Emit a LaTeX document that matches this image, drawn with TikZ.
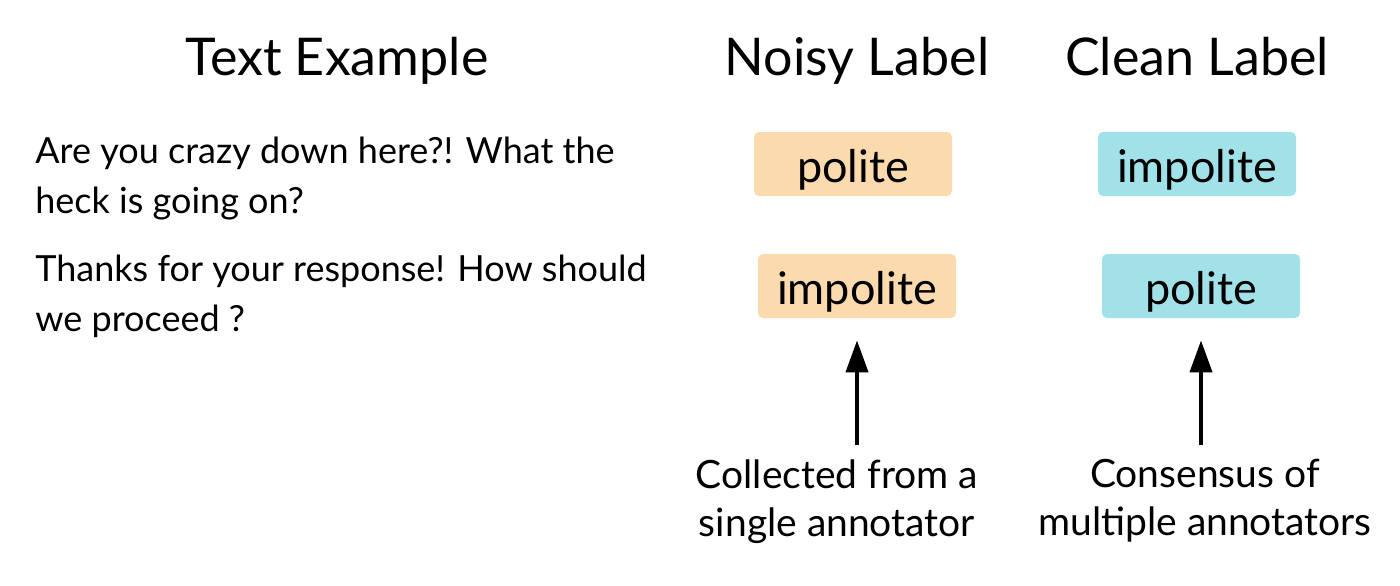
\documentclass[tikz,border=0pt]{standalone}
\usepackage{fontspec}
\setmainfont{Lato}
\usepackage{tikz}
\usetikzlibrary{arrows.meta,positioning,calc}
\definecolor{noisyPeach}{RGB}{251,219,174}
\definecolor{cleanCyan}{RGB}{160,226,232}

\begin{document}
\begin{tikzpicture}[x=0.5pt,y=-0.5pt,
  hdr/.style={anchor=base,font=\fontsize{26}{30}\selectfont},
  example/.style={anchor=north west,align=left,inner sep=0pt,font=\fontsize{18}{25}\selectfont},
  lbl/.style={rounded corners=2.5pt,minimum width=99pt,minimum height=32pt,inner sep=0pt,text height=20pt,text depth=2pt,font=\fontsize{22.5}{26}\selectfont},
  noisy/.style={lbl,fill=noisyPeach},
  clean/.style={lbl,fill=cleanCyan},
  note/.style={anchor=north,align=center,inner sep=0pt,font=\fontsize{19.5}{24}\selectfont},
  arrow/.style={-{Triangle[width=11pt,length=16pt]},line width=2pt,shorten >=11pt}
]
  \useasboundingbox (0,0) rectangle (1400,585);

  \node[hdr] (hdrText) at (337,75) {Text Example};
  \node[hdr] (hdrNoisy) at (857,75) {Noisy Label};
  \node[hdr] (hdrClean) at (1197,75) {Clean Label};

  \node[example] (ex1) at (35,137) {Are you crazy down here?! What the\\heck is going on?};
  \node[example] (ex2) at (35,255) {Thanks for your response! How should\\we proceed ?};

  \node[noisy] (noisy1) at (853,164) {polite};
  \node[noisy] (noisy2) at (857,286) {impolite};
  \node[clean] (clean1) at (1197,164) {impolite};
  \node[clean] (clean2) at (1201,286) {polite};

  \node[note] (noteNoisy) at (837,459) {Collected from a\\single annotator};
  \node[note] (noteClean) at (1205,459) {Consensus of\\multiple annotators};

  \draw[arrow] ($(noteNoisy.north -| noisy2.south)+(0,-14)$) -- (noisy2.south);
  \draw[arrow] ($(noteClean.north -| clean2.south)+(0,-14)$) -- (clean2.south);
\end{tikzpicture}
\end{document}
